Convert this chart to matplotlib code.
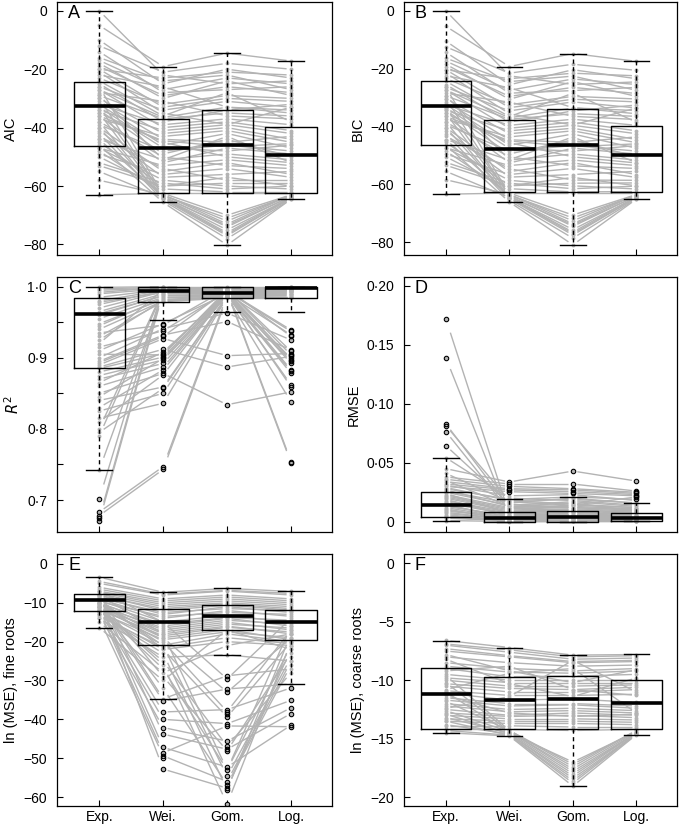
import numpy as np
import matplotlib
matplotlib.use("Agg")
from matplotlib import pyplot as plt

plt.rcParams['font.family'] = ['Liberation Sans', 'DejaVu Sans']

models = ["Exp.", "Wei.", "Gom.", "Log."]

# one row per site, columns Exp, Wei, Gom, Log
aic = [
    [0.0, -22, -25, -24], [-5, -19.1, -14.5, -17.2], [-10, -25, -20, -23],
    [-14, -28, -27, -26], [-18, -30, -24, -29], [-20, -33, -30, -31],
    [-22, -26, -33, -35], [-24, -36, -28, -38], [-25, -38, -34, -32],
    [-27, -40, -38, -41], [-28, -31, -36, -37], [-30, -42, -40, -44],
    [-31, -44, -45, -43], [-32, -46, -42, -47], [-33, -47, -48, -46],
    [-34, -49, -44, -50], [-35, -45, -50, -52], [-36, -52, -47, -49],
    [-38, -50, -53, -54], [-40, -55, -52, -56], [-41, -57, -56, -55],
    [-43, -54, -58, -58], [-45, -60, -57, -60], [-47, -58, -60, -61],
    [-50, -61, -62, -62], [-52, -59, -61, -60], [-26, -63, -72, -63],
    [-30, -63.5, -74, -63.5], [-35, -64, -75, -64], [-38, -64.5, -77, -64],
    [-42, -65, -78, -64.5], [-46, -65.6, -80.2, -64.5], [-55, -64, -76, -63.8],
    [-58, -63, -73, -63], [-63, -62.5, -62.5, -62.5], [-48, -62.5, -70, -63],
    [-16, -24, -22, -27], [-21, -35, -39, -33], [-29, -51, -43, -52],
    [-12, -21, -18, -20], [-17, -27, -23, -25], [-19, -29, -26, -28],
    [-23, -32, -29, -30], [-26, -34, -31, -33], [-29, -37, -35, -36],
    [-32, -39, -37, -39], [-34, -41, -39, -42], [-37, -43, -41, -45],
    [-39, -48, -46, -48], [-44, -51, -49, -51], [-47, -53, -51, -53],
    [-49, -56, -54, -57], [-53, -60, -59, -59], [-33, -63.2, -71, -63.2],
    [-40, -64.2, -76.5, -64.2], [-44, -63.8, -73.5, -63.6], [-27, -36.5, -33, -34],
    [-36, -44.5, -46.5, -45.5], [-20, -23, -21, -22],
]
bic = [
    [-0.1, -22.5, -25.5, -24.6], [-5.4, -19.3, -14.8, -17.5], [-10.5, -25.6, -20.4, -23.5],
    [-14.4, -28.5, -27.6, -26.5], [-18.5, -30.6, -24.5, -29.6], [-20.4, -33.5, -30.6, -31.5],
    [-22.5, -26.6, -33.5, -35.6], [-24.4, -36.6, -28.5, -38.5], [-25.5, -38.5, -34.6, -32.6],
    [-27.4, -40.6, -38.5, -41.5], [-28.5, -31.6, -36.5, -37.6], [-30.4, -42.5, -40.6, -44.5],
    [-31.5, -44.6, -45.5, -43.6], [-32.4, -46.5, -42.6, -47.5], [-33.5, -47.6, -48.5, -46.6],
    [-34.4, -49.5, -44.6, -50.5], [-35.5, -45.6, -50.5, -52.6], [-36.4, -52.6, -47.5, -49.5],
    [-38.5, -50.5, -53.6, -54.5], [-40.4, -55.6, -52.5, -56.6], [-41.5, -57.5, -56.6, -55.5],
    [-43.4, -54.6, -58.5, -58.6], [-45.5, -60.5, -57.6, -60.5], [-47.4, -58.6, -60.5, -61.6],
    [-50.5, -61.5, -62.6, -62.5], [-52.4, -59.6, -61.5, -60.6], [-26.5, -63.5, -72.6, -63.5],
    [-30.4, -64.0, -74.5, -64.0], [-35.5, -64.6, -75.6, -64.5], [-38.4, -65.0, -77.5, -64.6],
    [-42.5, -65.6, -78.6, -65.0], [-46.4, -66.1, -80.9, -65.1], [-55.5, -64.6, -76.5, -64.3],
    [-58.4, -63.5, -73.6, -63.5], [-63.4, -63.0, -63.0, -63.0], [-48.5, -63.0, -70.6, -63.5],
    [-16.4, -24.5, -22.6, -27.5], [-21.5, -35.6, -39.5, -33.6], [-29.4, -51.5, -43.6, -52.5],
    [-12.5, -21.6, -18.5, -20.6], [-17.4, -27.5, -23.6, -25.5], [-19.5, -29.6, -26.5, -28.6],
    [-23.4, -32.5, -29.6, -30.5], [-26.5, -34.6, -31.5, -33.6], [-29.4, -37.5, -35.6, -36.5],
    [-32.5, -39.6, -37.5, -39.6], [-34.4, -41.5, -39.6, -42.5], [-37.5, -43.6, -41.5, -45.6],
    [-39.4, -48.5, -46.6, -48.5], [-44.5, -51.6, -49.5, -51.6], [-47.4, -53.5, -51.6, -53.5],
    [-49.5, -56.6, -54.5, -57.6], [-53.4, -60.5, -59.6, -59.5], [-33.5, -63.7, -71.6, -63.7],
    [-40.4, -64.7, -77.0, -64.7], [-44.5, -64.3, -74.0, -64.1], [-27.4, -37.0, -33.6, -34.5],
    [-36.5, -45.0, -47.0, -46.0], [-20.4, -23.5, -21.6, -22.5],
]
r2 = [
    [0.999, 1.000, 1.000, 1.000], [0.997, 0.999, 0.998, 0.999], [0.995, 0.998, 0.996, 0.999],
    [0.990, 0.997, 0.995, 0.998], [0.985, 0.996, 0.993, 0.998], [0.980, 0.995, 0.992, 0.997],
    [0.975, 0.994, 0.991, 0.996], [0.970, 0.993, 0.990, 0.995], [0.965, 0.990, 0.989, 0.992],
    [0.960, 0.988, 0.988, 0.990], [0.955, 0.985, 0.987, 0.988], [0.948, 0.982, 0.986, 0.986],
    [0.940, 0.980, 0.985, 0.985], [0.930, 0.979, 0.984, 0.984], [0.920, 0.996, 0.994, 0.939],
    [0.910, 0.948, 0.990, 0.932], [0.900, 0.941, 0.963, 0.925], [0.895, 0.932, 0.951, 0.911],
    [0.890, 0.927, 0.903, 0.906], [0.887, 0.912, 0.887, 0.902], [0.885, 0.906, 0.993, 0.897],
    [0.880, 0.901, 0.992, 0.892], [0.875, 0.897, 0.990, 0.883], [0.870, 0.892, 0.989, 0.878],
    [0.860, 0.887, 0.988, 0.862], [0.850, 0.878, 0.834, 0.852], [0.840, 0.859, 0.987, 0.997],
    [0.825, 0.850, 0.986, 0.996], [0.815, 0.836, 0.985, 0.838], [0.800, 0.995, 0.994, 0.754],
    [0.790, 0.993, 0.992, 0.752], [0.742, 0.990, 0.991, 0.995], [0.701, 0.998, 0.996, 0.999],
    [0.683, 0.747, 0.988, 0.992], [0.678, 0.743, 0.985, 0.990], [0.674, 0.996, 0.995, 0.998],
    [0.670, 0.992, 0.990, 0.994], [0.935, 0.946, 0.997, 0.930], [0.905, 0.904, 0.996, 0.909],
    [0.992, 0.999, 0.997, 0.999], [0.978, 0.992, 0.993, 0.995], [0.962, 0.987, 0.989, 0.993],
    [0.945, 0.984, 0.987, 0.990], [0.925, 0.981, 0.986, 0.987], [0.915, 0.938, 0.993, 0.937],
    [0.893, 0.930, 0.995, 0.904], [0.865, 0.908, 0.991, 0.899], [0.845, 0.899, 0.989, 0.895],
    [0.830, 0.883, 0.988, 0.881], [0.810, 0.876, 0.990, 0.859], [0.795, 0.857, 0.987, 0.994],
]
rmse = [
    [0.172, 0.006, 0.005, 0.004], [0.139, 0.004, 0.006, 0.003], [0.083, 0.012, 0.010, 0.008],
    [0.0815, 0.018, 0.015, 0.012], [0.0764, 0.009, 0.008, 0.006], [0.0645, 0.015, 0.012, 0.010],
    [0.0543, 0.020, 0.018, 0.014], [0.045, 0.0337, 0.043, 0.0345], [0.038, 0.032, 0.032, 0.026],
    [0.036, 0.030, 0.028, 0.025], [0.034, 0.028, 0.027, 0.024], [0.032, 0.027, 0.0255, 0.023],
    [0.030, 0.0255, 0.024, 0.022], [0.028, 0.019, 0.021, 0.019], [0.026, 0.016, 0.020, 0.0156],
    [0.025, 0.014, 0.017, 0.013], [0.022, 0.011, 0.013, 0.011], [0.020, 0.009, 0.010, 0.008],
    [0.018, 0.008, 0.009, 0.007], [0.016, 0.006, 0.007, 0.005], [0.014, 0.004, 0.005, 0.004],
    [0.012, 0.003, 0.004, 0.003], [0.010, 0.003, 0.003, 0.002], [0.008, 0.002, 0.002, 0.002],
    [0.006, 0.001, 0.001, 0.001], [0.004, 0.0005, 0.0008, 0.0006], [0.003, 0.001, 0.0005, 0.001],
    [0.001, 0.0002, 0.0003, 0.0006], [0.024, 0.007, 0.006, 0.005], [0.019, 0.005, 0.004, 0.003],
    [0.015, 0.002, 0.002, 0.002], [0.011, 0.001, 0.001, 0.001], [0.041, 0.017, 0.014, 0.021],
    [0.035, 0.013, 0.016, 0.009], [0.021, 0.010, 0.011, 0.009], [0.017, 0.007, 0.008, 0.006],
    [0.013, 0.005, 0.006, 0.004], [0.009, 0.004, 0.003, 0.003], [0.007, 0.002, 0.003, 0.002],
    [0.005, 0.001, 0.002, 0.001], [0.027, 0.013, 0.012, 0.010], [0.023, 0.012, 0.014, 0.012],
    [0.031, 0.022, 0.023, 0.018], [0.029, 0.018, 0.019, 0.016],
]
ln_mse_fine = [
    [-3.4, -7.3, -6.3, -7.1], [-5, -8, -7, -8], [-6, -9, -8, -9], [-7, -10, -9, -10],
    [-7.7, -11, -10, -11], [-8, -12, -10.6, -11.9], [-8.5, -13, -11, -12.5],
    [-9, -14, -12, -13.5], [-9.4, -14.9, -13.3, -15], [-10, -16, -14, -16],
    [-10.5, -17, -15, -17], [-11, -18, -16, -18], [-11.5, -19, -16.9, -19.5],
    [-12.2, -20.9, -18, -20], [-13, -22, -20, -21], [-14, -24, -23.4, -25],
    [-15, -28, -21, -18], [-16.4, -30, -17, -22], [-9, -34.7, -28.8, -27],
    [-10, -35.3, -32.2, -30.9], [-11, -38.1, -37.5, -31.9], [-12, -40.0, -41.1, -35.1],
    [-13, -42.1, -45.6, -37.0], [-8, -43.8, -47.7, -38.5], [-10, -47.2, -52.3, -41.5],
    [-12, -48.6, -41.7, -41.9], [-14, -49.4, -56.0, -25], [-9, -52.8, -57.7, -22],
    [-11, -26, -61.8, -20], [-13, -23, -58.1, -18], [-10, -21, -54.7, -24],
    [-8, -18, -53.0, -16], [-12, -25, -46.9, -28], [-9, -22, -39.4, -20],
    [-11, -20, -38.0, -17], [-10, -19, -33.0, -19], [-7, -15, -29.6, -14],
    [-4.5, -7.8, -6.8, -7.6], [-6.5, -9.5, -8.5, -9.5], [-7.3, -10.5, -9.5, -10.5],
    [-8.2, -11.5, -10.3, -11.5], [-8.8, -12.5, -11.5, -12], [-9.7, -13.5, -12.5, -13],
    [-10.2, -15.5, -13.8, -14.5], [-10.8, -16.5, -14.5, -15.5], [-11.2, -17.5, -15.5, -16.5],
    [-11.8, -18.5, -16.3, -17.5], [-12.5, -19.5, -17.5, -19], [-13.5, -21.5, -19, -20.5],
    [-9.2, -29, -48.1, -23], [-10.6, -32, -56.8, -26], [-11.6, -27, -53.0, -21],
]
ln_mse_coarse = [
    [-6.6, -7.2, -7.85, -7.8], [-7, -7.6, -8.2, -8.1], [-7.5, -8, -8.5, -8.4],
    [-8, -8.5, -8.8, -8.7], [-8.5, -9, -9.2, -9], [-9, -9.7, -9.65, -9.5],
    [-9.5, -10, -10, -10], [-10, -10.5, -10.5, -10.4], [-10.5, -11, -11, -10.8],
    [-11.1, -11.7, -11.6, -11.9], [-11.5, -12, -12, -12.2], [-12, -12.5, -12.4, -12.6],
    [-12.5, -13, -12.8, -13], [-13, -13.3, -13.3, -13.4], [-13.5, -13.7, -13.7, -13.8],
    [-14.2, -14.2, -14.3, -14.2], [-8.2, -10.3, -11.4, -9.8], [-9.2, -8.8, -10.8, -11.3],
    [-10.8, -9.4, -9.0, -12.8], [-12.4, -11.4, -8.3, -11], [-11.8, -14.3, -17.2, -14.3],
    [-12.6, -14.4, -17.6, -14.4], [-13.2, -14.5, -18.0, -14.5], [-13.8, -14.6, -18.4, -14.6],
    [-14.3, -14.7, -18.8, -14.6], [-14.49, -14.77, -19.06, -14.66], [-10.2, -14.4, -17.8, -14.5],
    [-9.6, -14.3, -17.4, -14.3], [-7.8, -9.2, -10.2, -9.1], [-11.3, -12.8, -13.1, -12.9],
    [-6.9, -7.4, -8.0, -7.9], [-7.3, -7.9, -8.4, -8.3], [-8.8, -9.3, -9.4, -9.2],
    [-9.8, -10.2, -10.2, -10.2], [-10.3, -10.7, -10.8, -10.6], [-10.9, -11.3, -11.3, -11.2],
    [-11.7, -12.2, -12.1, -12.4], [-12.2, -12.7, -12.6, -12.8], [-12.8, -13.1, -13.0, -13.2],
    [-13.3, -13.5, -13.5, -13.6], [-13.9, -13.9, -14.0, -14.0], [-11.0, -14.5, -17.0, -14.4],
    [-12.9, -14.6, -18.2, -14.5], [-13.5, -14.7, -18.6, -14.6],
]

# box summaries: lower whisker, Q1, median, Q3, upper whisker
aic_box = [[-63.0, -46.4, -32.6, -24.3, 0.0], [-65.6, -62.3, -47.0, -37.0, -19.1],
           [-80.2, -62.3, -46.0, -33.9, -14.5], [-64.5, -62.3, -49.3, -39.9, -17.2]]
bic_box = [[-63.4, -46.3, -33.0, -24.4, -0.1], [-66.1, -62.8, -47.7, -37.6, -19.3],
           [-80.9, -62.8, -46.4, -34.0, -14.8], [-65.1, -62.8, -49.7, -39.8, -17.5]]
r2_box = [[0.742, 0.885, 0.961, 0.984, 0.999], [0.953, 0.979, 0.994, 1.000, 1.000],
          [0.965, 0.984, 0.991, 0.999, 1.000], [0.964, 0.984, 0.998, 1.000, 1.000]]
rmse_box = [[0.0008, 0.0037, 0.0139, 0.0249, 0.0543], [0.0, 0.0, 0.0028, 0.0082, 0.019],
            [0.0, 0.0, 0.0037, 0.0093, 0.0212], [0.0006, 0.0006, 0.0028, 0.0071, 0.0156]]
fine_box = [[-16.4, -12.2, -9.4, -7.7, -3.4], [-34.7, -20.9, -14.9, -11.5, -7.3],
            [-23.4, -16.9, -13.3, -10.6, -6.3], [-30.9, -19.5, -15.0, -11.9, -7.1]]
coarse_box = [[-14.49, -14.21, -11.14, -8.97, -6.63], [-14.77, -14.21, -11.73, -9.73, -7.23],
              [-19.06, -14.21, -11.62, -9.65, -7.85], [-14.66, -14.21, -11.93, -10.01, -7.76]]

no_fliers = [[], [], [], []]
r2_fliers = [
    [0.701, 0.683, 0.678, 0.674, 0.670],
    [0.948, 0.946, 0.941, 0.938, 0.932, 0.930, 0.927, 0.912, 0.908, 0.906, 0.904, 0.901,
     0.899, 0.897, 0.892, 0.887, 0.883, 0.878, 0.876, 0.859, 0.857, 0.850, 0.836, 0.747, 0.743],
    [0.963, 0.951, 0.903, 0.887, 0.834],
    [0.939, 0.937, 0.932, 0.930, 0.925, 0.911, 0.909, 0.906, 0.904, 0.902, 0.899, 0.897,
     0.895, 0.892, 0.883, 0.881, 0.878, 0.862, 0.859, 0.852, 0.838, 0.754, 0.752],
]
rmse_fliers = [
    [0.172, 0.139, 0.083, 0.0815, 0.0764, 0.0645],
    [0.0337, 0.032, 0.030, 0.028, 0.027, 0.0255],
    [0.043, 0.032, 0.028, 0.027, 0.0255, 0.024],
    [0.0345, 0.026, 0.025, 0.024, 0.023, 0.022, 0.021, 0.019],
]
fine_fliers = [
    [],
    [-35.3, -38.1, -40.0, -42.1, -43.8, -47.2, -48.6, -49.4, -50.0, -52.8],
    [-28.8, -29.6, -32.2, -33.0, -37.5, -38.0, -38.7, -39.4, -41.1, -41.7, -45.6, -46.9,
     -47.7, -48.1, -52.3, -53.0, -54.7, -56.0, -56.8, -57.7, -58.1, -61.8],
    [-31.9, -35.1, -37.0, -38.5, -41.5, -41.9],
]

GRAY = '#b3b3b3'


def mid_dot(vals, fmt):
    return [(fmt % v).replace('.', '\u00b7') if v != 0 else '0' for v in vals]


def minus(vals):
    return [f'{v:g}'.replace('-', '\u2212') for v in vals]


def panel(ax, data, box, fliers, letter, ylabel, ylim, yticks, ylabels):
    data = np.array(data, dtype=float)
    x = np.arange(1, 5)
    g = 0.07
    # paired lines between models, stopped a little short of each column
    for row in data:
        for i in range(3):
            y0, y1 = row[i], row[i + 1]
            ax.plot([x[i] + g, x[i + 1] - g],
                    [y0 + g * (y1 - y0), y1 - g * (y1 - y0)],
                    color=GRAY, lw=1.0, zorder=1, solid_capstyle='butt')
    for i in range(4):
        ax.plot(np.full(len(data), x[i]), data[:, i], 'o', ms=2.8,
                color=GRAY, mec='none', zorder=2)

    stats = [dict(whislo=b[0], q1=b[1], med=b[2], q3=b[3], whishi=b[4], fliers=f)
             for b, f in zip(box, fliers)]
    ax.bxp(stats, positions=x, widths=0.8, capwidths=0.4, zorder=3,
           boxprops=dict(color='black', lw=1.0),
           medianprops=dict(color='black', lw=2.6, solid_capstyle='butt'),
           whiskerprops=dict(color='black', lw=1.0, ls=(0, (3, 2.5))),
           capprops=dict(color='black', lw=1.0),
           flierprops=dict(marker='o', ms=3.2, mfc='none', mec='black', mew=0.8))

    ax.set_xlim(0.34, 4.64)
    ax.set_ylim(*ylim)
    ax.set_yticks(yticks, labels=ylabels)
    ax.set_xticks(x, labels=models)
    ax.tick_params(direction='in', length=4, width=0.8, labelsize=10)
    ax.tick_params(axis='y', pad=7)
    ax.tick_params(axis='x', pad=3)
    ax.set_ylabel(ylabel, fontsize=10.5)
    for s in ax.spines.values():
        s.set_linewidth(0.9)
    ax.text(0.04, 0.955, letter, transform=ax.transAxes, fontsize=13,
            ha='left', va='center', zorder=5)


fig = plt.figure(figsize=(6.8, 8.3), dpi=100)
lefts = [57 / 680, 404 / 680]
widths = [275 / 680, 273 / 680]
bottoms = [(830 - 255) / 830, (830 - 532) / 830, (830 - 806) / 830]
heights = [253 / 830, 255 / 830, 252 / 830]


def make_ax(r, c):
    return fig.add_axes([lefts[c], bottoms[r], widths[c], heights[r]])


t = [0, -20, -40, -60, -80]
panel(make_ax(0, 0), aic, aic_box, no_fliers, 'A', 'AIC', (-83.6, 3.0), t, minus(t))
panel(make_ax(0, 1), bic, bic_box, no_fliers, 'B', 'BIC', (-84.4, 3.0), t, minus(t))

t = [0.7, 0.75, 0.8, 0.85, 0.9, 0.95, 1.0]
lab = mid_dot(t, '%.1f')
lab = [l if i % 2 == 0 else '' for i, l in enumerate(lab)]
panel(make_ax(1, 0), r2, r2_box, r2_fliers, 'C', '$R^2$', (0.655, 1.0136), t, lab)

t = [0, 0.05, 0.10, 0.15, 0.20]
panel(make_ax(1, 1), rmse, rmse_box, rmse_fliers, 'D', 'RMSE', (-0.0087, 0.2076), t, mid_dot(t, '%.2f'))

t = [0, -10, -20, -30, -40, -50, -60]
panel(make_ax(2, 0), ln_mse_fine, fine_box, fine_fliers, 'E', 'ln (MSE), fine roots',
      (-62.3, 2.55), t, minus(t))
t = [0, -5, -10, -15, -20]
panel(make_ax(2, 1), ln_mse_coarse, coarse_box, no_fliers, 'F', 'ln (MSE), coarse roots',
      (-20.76, 0.8), t, minus(t))

# only the bottom row carries model names
for a in fig.axes[:4]:
    a.tick_params(labelbottom=False)

fig.savefig('out.png', dpi=100)
